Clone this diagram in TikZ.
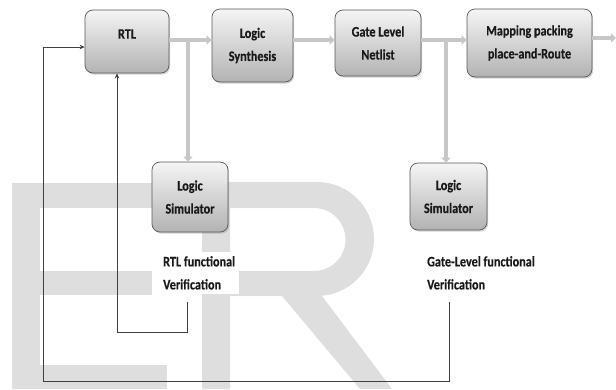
\documentclass[tikz,border=0pt]{standalone}
\usepackage{fontspec}
\setmainfont{Carlito}[FakeStretch=0.84, BoldFeatures={FakeBold=0.4}]
\usetikzlibrary{arrows.meta,shadows}
\begin{document}
\begin{tikzpicture}[x=1pt,y=-1pt,
  txt/.style={font=\fontsize{14.5}{23}\selectfont\bfseries, text=black!90},
  box/.style={txt, draw=black!65, line width=0.7pt, rounded corners=8pt,
    top color=black!4, bottom color=black!30, align=center, inner sep=0pt,
    drop shadow={shadow xshift=1.2pt,shadow yshift=-1.6pt,opacity=0.35}},
  lbl/.style={txt, align=left, anchor=north west, fill=white, inner sep=4pt},
  garrow/.style={draw=black!22, line width=4.5pt, -{Triangle[length=5pt,width=9pt]}},
  karrow/.style={draw=black!75, line width=0.8pt, -{Stealth[length=5pt,width=4.5pt]}},
  wm/.style={fill=black!13}]
\useasboundingbox (0,0) rectangle (616,389);
% watermark
\fill[wm] (12,183) rectangle (40,389);
\fill[wm] (12,183) rectangle (160,208);
\fill[wm] (40,271) rectangle (152,295);
\fill[wm] (12,365) rectangle (167,389);
\fill[wm,even odd rule] (202,389) -- (202,182) -- (317,182)
  arc[start angle=-90,end angle=90,radius=57] -- (322,296) -- (392,389) -- (360,389) -- (282,296)
  -- (230,296) -- (230,389) -- cycle
  (230,208) -- (314,208) arc[start angle=-90,end angle=90,radius=31.5] -- (230,271) -- cycle;
% boxes
\node[box, minimum width=84pt, minimum height=63pt] (rtl) at (127,41.5) {RTL\\[-8pt]~};
\node[box, minimum width=81pt, minimum height=73pt] (synth) at (252.5,45.5) {Logic\\Synthesis};
\node[box, minimum width=86pt, minimum height=66pt] (gate) at (378,43) {Gate Level\\Netlist};
\node[box, minimum width=125pt, minimum height=68pt] (map) at (529.5,43) {Mapping packing\\place-and-Route};
\node[box, minimum width=76pt, minimum height=70pt] (sim1) at (190,197) {Logic\\Simulator};
\node[box, minimum width=77pt, minimum height=67pt] (sim2) at (448.5,196.5) {Logic\\Simulator};
\node[lbl] (ver1) at (159,252) {RTL functional\\Verification};
\node[lbl] (ver2) at (423,252) {Gate-Level functional\\Verification};
% gray flow
\coordinate (main) at (0,40);
\coordinate (outp) at (616,38);
\coordinate (br1) at (188,40);
\coordinate (br2) at (446,40);
\draw[garrow] (rtl.east |- main) -- (synth.west |- main);
\draw[garrow] (synth.east |- main) -- (gate.west |- main);
\draw[garrow] (gate.east |- main) -- (map.west |- main);
\draw[garrow] (map.east |- outp) -- (outp);
\draw[garrow, line width=4pt] (br1) -- (br1 |- sim1.north);
\draw[garrow, line width=4pt] (br2) -- (br2 |- sim2.north);
% feedback
\coordinate (f1) at (187,302);
\coordinate (f1c) at (117,332);
\coordinate (f2) at (449,302);
\coordinate (f2c) at (43,381);
\coordinate (fby) at (0,47);
\draw[karrow] (f1) |- (f1c) -- (f1c |- rtl.south);
\draw[karrow] (f2) |- (f2c) -- (f2c |- fby) -- (rtl.west |- fby);
\end{tikzpicture}
\end{document}
